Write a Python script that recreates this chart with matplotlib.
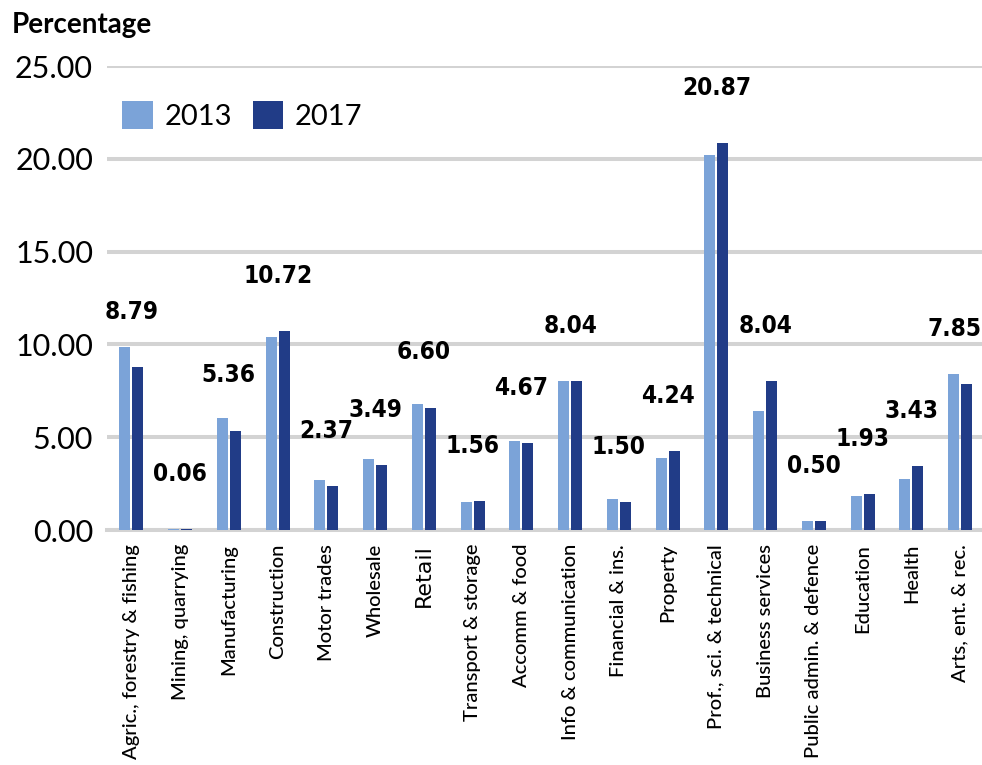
import matplotlib.pyplot as plt
import numpy as np

categories = ['Agric., forestry & fishing', 'Mining, quarrying', 'Manufacturing',
              'Construction', 'Motor trades', 'Wholesale', 'Retail',
              'Transport & storage', 'Accomm & food', 'Info & communication',
              'Financial & ins.', 'Property', 'Prof., sci. & technical',
              'Business services', 'Public admin. & defence', 'Education',
              'Health', 'Arts, ent. & rec.']
pct_2013 = [9.87, 0.07, 6.03, 10.39, 2.71, 3.81, 6.77, 1.52, 4.78, 8.02,
            1.65, 3.88, 20.19, 6.41, 0.48, 1.81, 2.76, 8.40]
pct_2017 = [8.79, 0.06, 5.36, 10.72, 2.37, 3.49, 6.60, 1.56, 4.67, 8.04,
            1.50, 4.24, 20.87, 8.04, 0.50, 1.93, 3.43, 7.85]
yticks = [0, 5, 10, 15, 20, 25]

light = '#7BA3D8'
dark = '#213C87'
grid_c = '#D3D3D3'

fig = plt.figure(figsize=(9.82, 7.65), dpi=100)
ax = fig.add_axes([107 / 982, 235 / 765, 875 / 982, 464 / 765])

x = np.arange(len(categories))
w = 0.226
ax.bar(x - 0.133, pct_2013, w, color=light, label='2013', zorder=3)
ax.bar(x + 0.133, pct_2017, w, color=dark, label='2017', zorder=3)

# value labels for the 2017 series (last one nudged so it stays inside the figure)
for xi, v in zip(x, pct_2017):
    dx = -4 if xi == x[-1] else 0
    ax.annotate(f'{v:.2f}', (xi, v), xytext=(dx, 31), textcoords='offset points',
                ha='center', va='bottom', fontsize=17.5, fontweight='bold',
                fontstretch='condensed', family='DejaVu Sans', color='black')

ax.set_xlim(-0.5, 17.45)
ax.set_ylim(0, 25)
ax.set_yticks(yticks)
ax.set_yticklabels([f'{t:.2f}' for t in yticks], fontsize=22, family='Lato')
ax.yaxis.grid(True, color=grid_c, linewidth=2.9, zorder=0)
ax.set_axisbelow(True)
ax.tick_params(axis='y', length=0, pad=10)
ax.tick_params(axis='x', length=0, pad=10)
ax.set_xticks(x)
ax.set_xticklabels(categories, rotation=90, fontsize=14.5, family='Lato',
                   fontweight='medium')
for lbl in ax.get_xticklabels():
    if lbl.get_text() == 'Retail':
        lbl.set_family('DejaVu Sans')
        lbl.set_fontweight('normal')
        lbl.set_fontsize(16)
for s in ax.spines.values():
    s.set_visible(False)
ax.axhline(0, color=grid_c, linewidth=2.9, zorder=1, clip_on=False)

ax.legend(loc='upper left', bbox_to_anchor=(0.001, 0.956), ncol=2, frameon=False,
          prop={'family': 'Lato', 'size': 21}, handlelength=1.05, handleheight=1.1,
          handletextpad=0.4, columnspacing=0.7, borderpad=0)

fig.text(12 / 982, 1 - 12 / 765, 'Percentage', ha='left', va='top',
         fontsize=20, fontweight='bold', family='Lato')

fig.savefig('out.png', dpi=100)
